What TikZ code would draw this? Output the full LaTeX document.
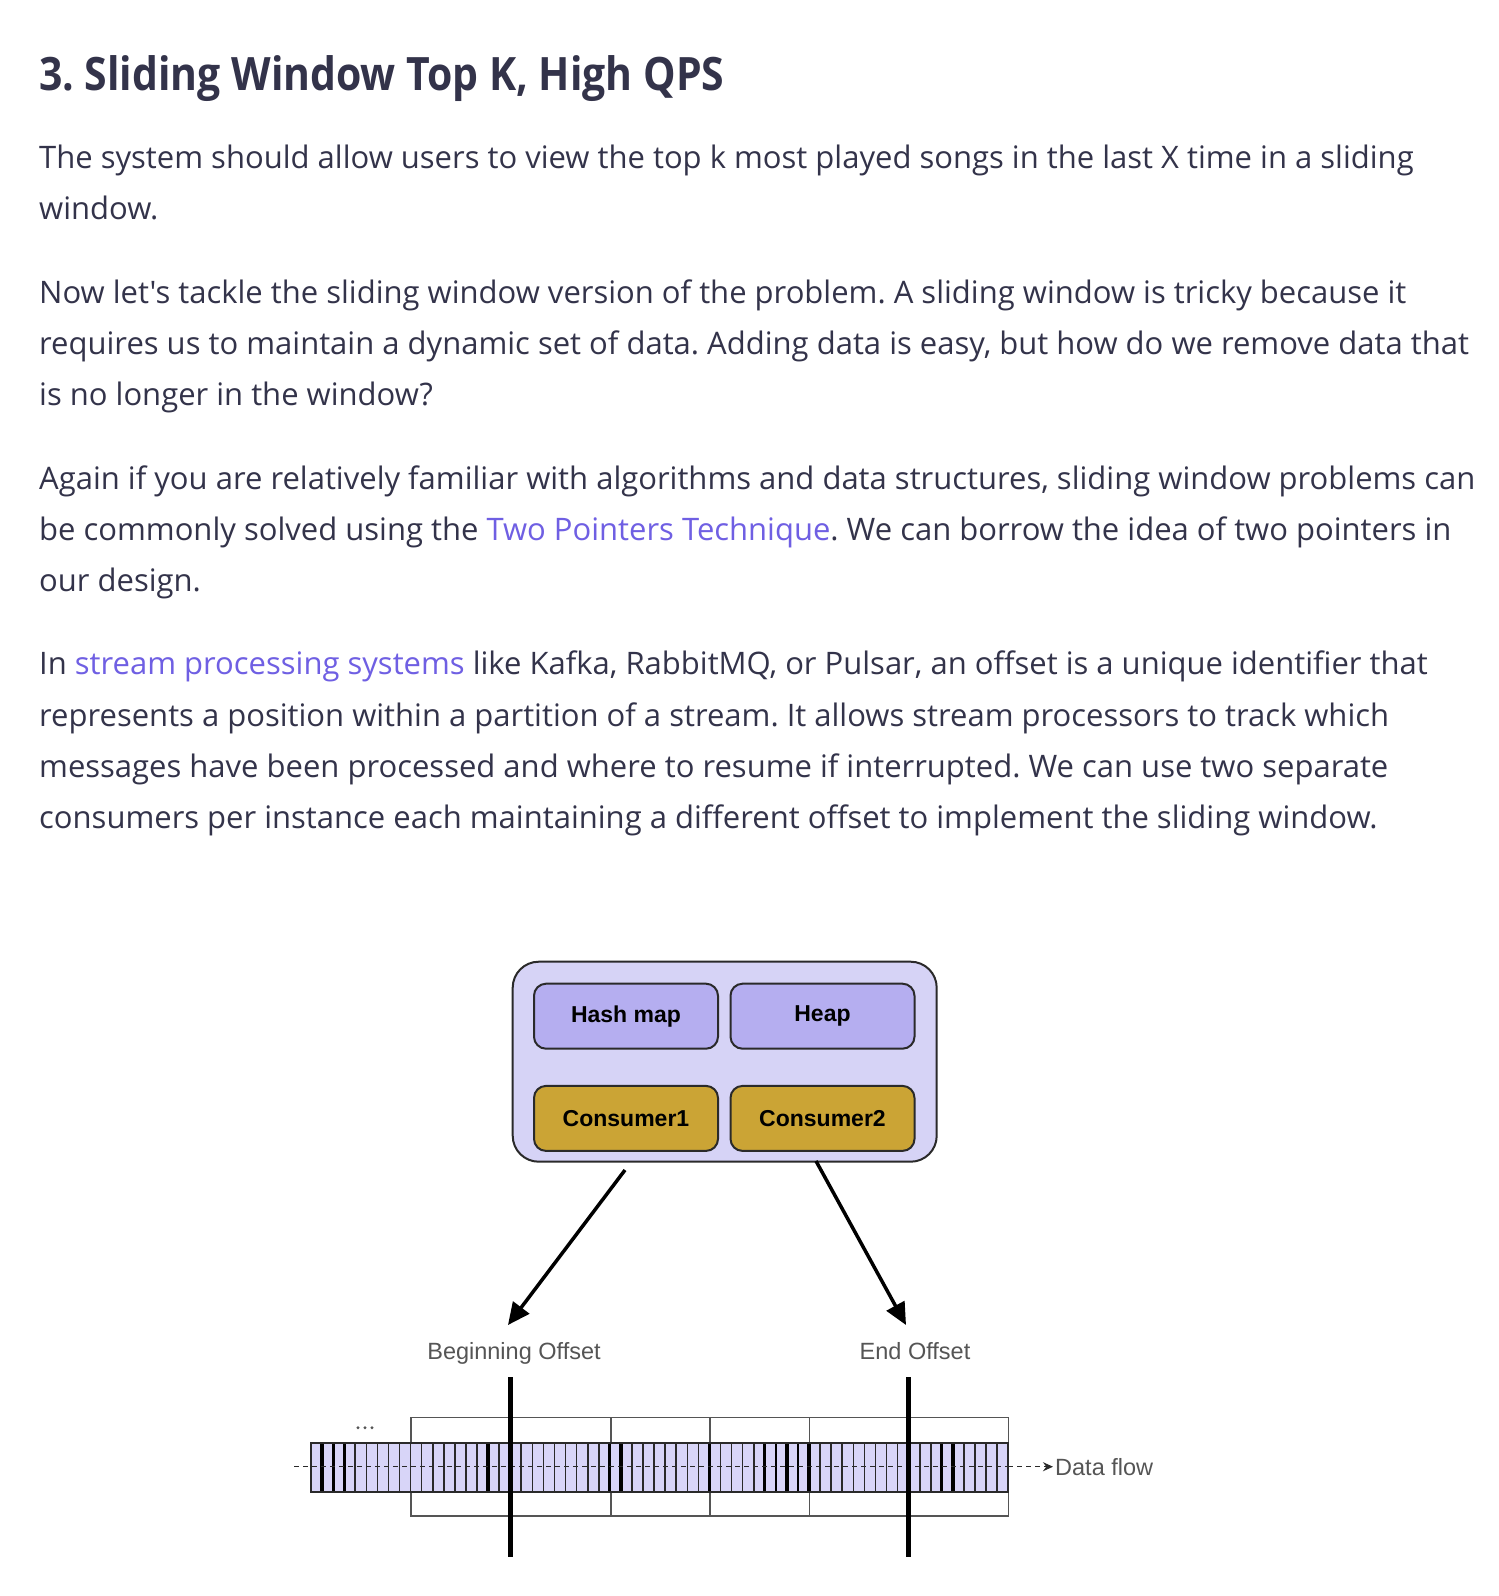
\documentclass[tikz,border=0pt]{standalone}
\usepackage{fontspec}
\setmainfont{Open Sans}[Ligatures=TeXOff]
\newfontfamily\titlefont{Open Sans}[FakeStretch=0.89, Ligatures=TeXOff]
\newfontfamily\diag{Liberation Sans}
\usetikzlibrary{arrows.meta,calc}
\frenchspacing
\definecolor{txt}{HTML}{33334A}
\definecolor{linkc}{HTML}{6F5FE3}
\definecolor{contfill}{HTML}{D6D3F6}
\definecolor{boxfill}{HTML}{B5AEF0}
\definecolor{goldfill}{HTML}{CBA435}
\definecolor{stripfill}{HTML}{D8D5F8}
\definecolor{edge}{HTML}{2A2A2A}
\definecolor{graytxt}{HTML}{555555}
\tikzset{
  body/.style={anchor=base west, inner sep=0pt, text=txt, font=\fontsize{31}{36}\selectfont},
  ttl/.style={anchor=base west, inner sep=0pt, text=txt, font=\titlefont\fontsize{46}{52}\selectfont\bfseries},
  innerbox/.style={draw=edge, line width=2pt, rounded corners=12pt, minimum width=184pt, minimum height=65pt, inner sep=0pt, font=\diag\fontsize{23}{27}\selectfont\bfseries, text=black},
  lbl/.style={inner sep=0pt, text=graytxt, font=\diag\fontsize{23.5}{27}\selectfont},
  bigarrow/.style={line width=3.5pt, -{Triangle[length=22pt,width=20pt]}},
  cellline/.style={line width=1.6pt, draw=edge},
  boldcell/.style={line width=3.2pt, draw=black},
  ptr/.style={line width=4.5pt, draw=black},
}
\begin{document}
\begin{tikzpicture}[x=1pt,y=-1pt]
\useasboundingbox[fill=white] (0,0) rectangle (1499,1596);

% ---------- text ----------
\node[ttl] (title) at (39,90) {3. Sliding Window Top K, High QPS};

\node[body] (p1a) at (39,168) {The system should allow users to view the top k most played songs in the last X time in a sliding};
\node[body] (p1b) at (39,219) {window.};

\node[body] (p2a) at (39,303) {Now let's tackle the sliding window version of the problem. A sliding window is tricky because it};
\node[body] (p2b) at (39,354) {requires us to maintain a dynamic set of data. Adding data is easy, but how do we remove data that};
\node[body] (p2c) at (39,405) {is no longer in the window?};

\node[body] (p3a) at (39,489) {Again if you are relatively familiar with algorithms and data structures, sliding window problems can};
\node[body] (p3b) at (39,540) {be commonly solved using the \textcolor{linkc}{Two Pointers Technique}. We can borrow the idea of two pointers in};
\node[body] (p3c) at (39,591) {our design.};

\node[body] (p4a) at (39,674) {In \textcolor{linkc}{stream processing systems} like Kafka, RabbitMQ, or Pulsar, an offset is a unique identifier that};
\node[body] (p4b) at (39,726) {represents a position within a partition of a stream. It allows stream processors to track which};
\node[body] (p4c) at (39,777) {messages have been processed and where to resume if interrupted. We can use two separate};
\node[body] (p4d) at (39,828) {consumers per instance each maintaining a different offset to implement the sliding window.};

% ---------- instance ----------
\node[draw=edge, line width=2pt, fill=contfill, rounded corners=26pt, minimum width=424pt, minimum height=200pt, inner sep=0pt] (cont) at (724.7,1061.7) {};
\node[innerbox, fill=boxfill] (hm) at (626,1016.2) {\raisebox{-2pt}{Hash map}};
\node[innerbox, fill=boxfill] (hp) at (822.5,1016.2) {\raisebox{-2pt}{Heap}};
\node[innerbox, fill=goldfill] (c1) at (626,1118.4) {Consumer1};
\node[innerbox, fill=goldfill] (c2) at (822.5,1118.4) {Consumer2};

% ---------- labels ----------
\node[lbl, anchor=base] (lb) at (514,1359) {Beginning Offset};
\node[lbl, anchor=base] (le) at (915,1359) {End Offset};

\coordinate (a1s) at (625,1170);
\coordinate (a1e) at (508,1325);
\coordinate (a2s) at (816,1161);
\coordinate (a2e) at (906,1325);
\draw[bigarrow] (a1s) -- (a1e);
\draw[bigarrow] (a2s) -- (a2e);

% ---------- partitions (outer boxes) ----------
\draw[draw=graytxt, line width=1.6pt] (410.7,1417.3) rectangle (1008.3,1515.7);
\foreach \xx in {610.7,710,809.3}{
  \draw[draw=graytxt, line width=1.6pt] (\xx,1417.3) -- (\xx,1515.7);
}

% ---------- strip ----------
\fill[stripfill] (311,1442.7) rectangle (1008.3,1491.7);
\foreach \i in {1,...,62}{
  \draw[cellline] ({311+\i*11.068},1442.7) -- ({311+\i*11.068},1491.7);
}
\foreach \i in {1,2,3,16,27,28,36,41,43,45,57,58}{
  \draw[boldcell] ({311+\i*11.068},1442.7) -- ({311+\i*11.068},1491.7);
}
\foreach \i in {42,44}{
  \draw[line width=2.5pt, draw=black] ({311+\i*11.068},1442.7) -- ({311+\i*11.068},1491.7);
}
\draw[draw=edge, line width=2pt] (311,1442.7) rectangle (1008.3,1491.7);

% dashed data flow line
\coordinate (dfs) at (294,1466.7);
\node[lbl, anchor=west] (df) at (1055,1466.7) {Data flow};
\draw[draw=edge, line width=1.5pt, dash pattern=on 5pt off 4pt] (dfs) -- (1008.3,1466.7);
\draw[draw=edge, line width=1.5pt, dash pattern=on 5pt off 4pt, -{Stealth[length=10pt,width=9pt]}] (1008.3,1466.7) -- ([xshift=-2pt]df.west);

% ellipsis
\foreach \xx in {358,365,372}{
  \fill[graytxt] (\xx,1427.7) circle (1.6pt);
}

% offset pointers
\coordinate (pb1) at (510.7,1377);
\coordinate (pb2) at (510.7,1557);
\coordinate (pe1) at (908.3,1377);
\coordinate (pe2) at (908.3,1557);
\draw[ptr] (pb1) -- (pb2);
\draw[ptr] (pe1) -- (pe2);
\end{tikzpicture}
\end{document}
